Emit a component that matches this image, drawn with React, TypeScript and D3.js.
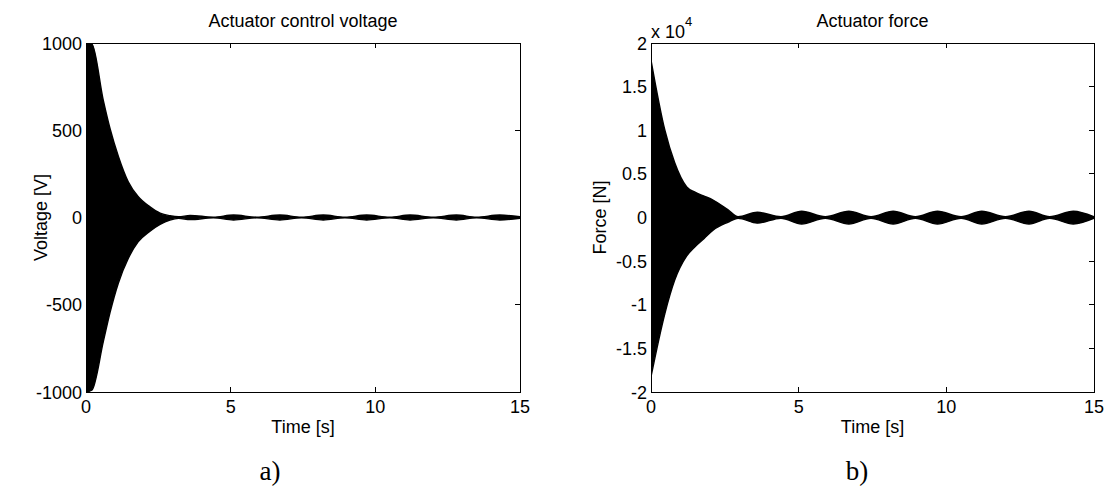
import React from "react";
import * as d3 from "d3";

// ---------- data ----------
const timeTicks = [0, 5, 10, 15];
const voltageTicks = [-1000, -500, 0, 500, 1000];
const forceTicks = [-20000, -15000, -10000, -5000, 0, 5000, 10000, 15000, 20000];

// envelope of the dense oscillating voltage signal [V]
const voltageTime = [0, 0.2, 0.6, 0.83, 1.12, 1.46, 1.8, 2.2, 2.56, 2.9, 3.2, 3.6, 4.4, 5.1, 5.9, 6.7, 7.45, 8.2, 8.95, 9.7, 10.5, 11.2, 12.0, 12.8, 13.5, 14.3, 15];
const voltageUpper = [1000, 995, 670, 510, 350, 205, 120, 62, 25, 10, 4, 12, 2, 14, 2, 14, 2, 14, 2, 14, 2, 14, 2, 14, 2, 14, 4];
const voltageLower = [-1000, -990, -710, -545, -375, -235, -140, -80, -40, -15, -5, -12, -2, -14, -2, -14, -2, -14, -2, -14, -2, -14, -2, -14, -2, -14, -4];

// envelope of the dense oscillating force signal [N]
const forceTime = [0, 0.47, 0.8, 1.21, 1.49, 1.8, 2.1, 2.6, 2.95, 3.6, 4.4, 5.1, 5.9, 6.7, 7.45, 8.2, 8.95, 9.7, 10.5, 11.2, 12.0, 12.8, 13.5, 14.3, 15];
const forceUpper = [18050, 10000, 6300, 3500, 2900, 2450, 2000, 900, 80, 600, 80, 720, 80, 720, 80, 720, 80, 720, 80, 720, 80, 720, 80, 720, 80];
const forceLower = [-18250, -11000, -7200, -4400, -3350, -2400, -1450, -550, -80, -650, -80, -740, -80, -740, -80, -740, -80, -740, -80, -740, -80, -740, -80, -740, -80];

const FONT = "'Liberation Sans', Arial, Helvetica, sans-serif";
const SERIF = "'Liberation Serif', 'Times New Roman', serif";

type PanelProps = {
  id: string;
  left: number;
  right: number;
  top: number;
  bottom: number;
  title: string;
  yLabel: string;
  yLabelX: number;
  time: number[];
  upper: number[];
  lower: number[];
  yDomain: [number, number];
  yTicks: number[];
  yFormat: (v: number) => string;
  exponent?: boolean;
  caption: string;
  captionX: number;
};

function Panel(p: PanelProps) {
  const x = d3.scaleLinear().domain([0, 15]).range([p.left, p.right]);
  const y = d3.scaleLinear().domain(p.yDomain).range([p.bottom, p.top]);
  const rows = p.time.map((t, i) => [t, p.upper[i], p.lower[i]] as [number, number, number]);
  const area = d3
    .area<[number, number, number]>()
    .x((d) => x(d[0]))
    .y0((d) => y(d[2]))
    .y1((d) => y(d[1]))
    .curve(d3.curveMonotoneX);
  const cx = (p.left + p.right) / 2;
  const cy = (p.top + p.bottom) / 2;
  const tl = 5;
  return (
    <g>
      <defs>
        <clipPath id={p.id}>
          <rect x={p.left} y={p.top} width={p.right - p.left} height={p.bottom - p.top} />
        </clipPath>
      </defs>
      <g clipPath={`url(#${p.id})`}>
        <path d={area(rows) || ""} fill="#000" stroke="#000" strokeWidth={1.4} strokeLinejoin="round" />
      </g>
      <rect x={p.left} y={p.top} width={p.right - p.left} height={p.bottom - p.top} fill="none" stroke="#000" strokeWidth={1} shapeRendering="crispEdges" />
      {timeTicks.map((t) => (
        <g key={"xt" + t}>
          <line x1={x(t)} x2={x(t)} y1={p.bottom} y2={p.bottom - tl} stroke="#000" shapeRendering="crispEdges" />
          <line x1={x(t)} x2={x(t)} y1={p.top} y2={p.top + tl} stroke="#000" shapeRendering="crispEdges" />
          <text x={x(t)} y={413} textAnchor="middle" fontFamily={FONT} fontSize={18}>
            {t}
          </text>
        </g>
      ))}
      {p.yTicks.map((v) => (
        <g key={"yt" + v}>
          <line x1={p.left} x2={p.left + tl} y1={y(v)} y2={y(v)} stroke="#000" shapeRendering="crispEdges" />
          <line x1={p.right} x2={p.right - tl} y1={y(v)} y2={y(v)} stroke="#000" shapeRendering="crispEdges" />
          <text x={p.left - 4} y={y(v) + 6.5} textAnchor="end" fontFamily={FONT} fontSize={18}>
            {p.yFormat(v)}
          </text>
        </g>
      ))}
      {p.exponent && (
        <text x={p.left} y={38} fontFamily={FONT} fontSize={18}>
          x 10
          <tspan dy={-12} fontSize={13}>
            4
          </tspan>
        </text>
      )}
      <text x={cx} y={27} textAnchor="middle" fontFamily={FONT} fontSize={18}>
        {p.title}
      </text>
      <text x={cx} y={433} textAnchor="middle" fontFamily={FONT} fontSize={18}>
        Time [s]
      </text>
      <text
        transform={`translate(${p.yLabelX},${cy}) rotate(-90)`}
        textAnchor="middle"
        fontFamily={FONT}
        fontSize={18}
      >
        {p.yLabel}
      </text>
      <text x={p.captionX} y={480} textAnchor="middle" fontFamily={SERIF} fontSize={27}>
        {p.caption}
      </text>
    </g>
  );
}

export default function App() {
  return (
    <svg
      width={1114}
      height={495}
      style={{ position: "absolute", left: 0, top: 0, display: "block", background: "#fff" }}
    >
      <rect width={1114} height={495} fill="#fff" />
      <Panel
        id="clipA"
        left={86}
        right={520}
        top={43}
        bottom={392}
        title="Actuator control voltage"
        yLabel="Voltage [V]"
        yLabelX={47}
        time={voltageTime}
        upper={voltageUpper}
        lower={voltageLower}
        yDomain={[-1000, 1000]}
        yTicks={voltageTicks}
        yFormat={(v) => String(v)}
        caption="a)"
        captionX={270}
      />
      <Panel
        id="clipB"
        left={651}
        right={1094}
        top={43}
        bottom={392}
        title="Actuator force"
        yLabel="Force [N]"
        yLabelX={606}
        time={forceTime}
        upper={forceUpper}
        lower={forceLower}
        yDomain={[-20000, 20000]}
        yTicks={forceTicks}
        yFormat={(v) => String(v / 10000)}
        exponent
        caption="b)"
        captionX={857}
      />
    </svg>
  );
}
